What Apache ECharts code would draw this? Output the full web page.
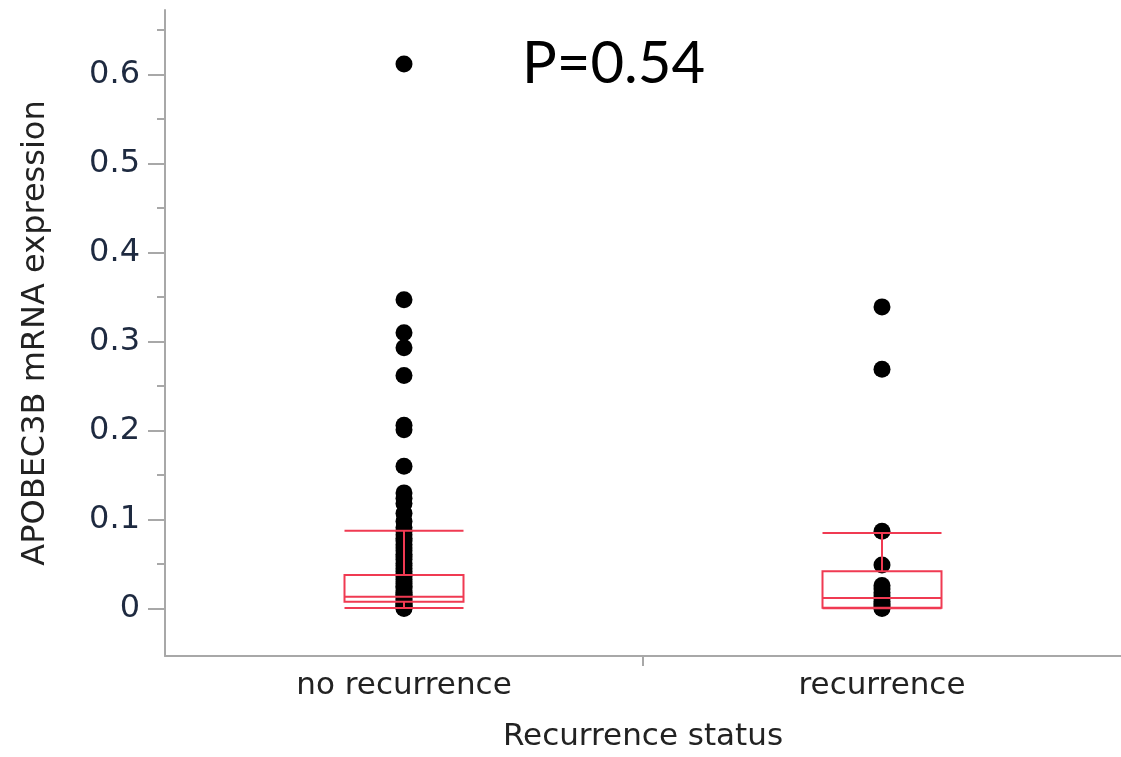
<!DOCTYPE html>
<html>
<head>
<meta charset="utf-8">
<script src="https://cdn.jsdelivr.net/npm/echarts@6/dist/echarts.min.js"></script>
<style>
html,body{margin:0;padding:0;background:#fff;}
#chart{width:1121px;height:757px;}
</style>
</head>
<body>
<div id="chart"></div>
<script>
// ---- data ----
const categories = ['no recurrence', 'recurrence'];
const noRecurrencePoints = [0.612, 0.347, 0.310, 0.293, 0.262, 0.206, 0.201, 0.160, 0.130, 0.124, 0.118, 0.107, 0.098,
  0.091, 0.087, 0.083, 0.079, 0.076, 0.072, 0.068, 0.065, 0.061, 0.058, 0.055, 0.051, 0.048, 0.045, 0.042,
  0.039, 0.036, 0.033, 0.030, 0.028, 0.025, 0.023, 0.020, 0.018, 0.016, 0.014, 0.012, 0.010, 0.008,
  0.006, 0.004, 0.003, 0.002, 0.001, 0.0];
const recurrencePoints = [0.339, 0.269, 0.087, 0.049, 0.026, 0.022, 0.018, 0.014, 0.011, 0.008, 0.005, 0.003, 0.001, 0.0];
// box stats: [lower whisker, Q1, median, Q3, upper whisker]
const boxStats = [
  [0.0005, 0.0078, 0.0133, 0.0377, 0.0875],
  [0.0003, 0.0010, 0.0120, 0.0420, 0.0850]
];
const majorTicks = [0, 0.1, 0.2, 0.3, 0.4, 0.5, 0.6];
const minorTicks = [0.05, 0.15, 0.25, 0.35, 0.45, 0.55, 0.65];
const categoryBoundaryTicks = [1];
const pValueText = 'P=0.54';
const yTitle = 'APOBEC3B mRNA expression';
const xTitle = 'Recurrence status';

const scatterData = [];
noRecurrencePoints.forEach(v => scatterData.push([0, v]));
recurrencePoints.forEach(v => scatterData.push([1, v]));

const Y_MIN = -0.0533, Y_MAX = 0.6726;
const axisGray = '#a8a8a8';
const textFont = 'DejaVu Sans';

const chart = echarts.init(document.getElementById('chart'), null, {renderer: 'canvas'});
chart.setOption({
  animation: false,
  backgroundColor: '#ffffff',
  title: {
    text: pValueText,
    left: 517, top: 30,
    textStyle: {fontFamily: 'Lato', fontSize: 58, fontWeight: 'normal', color: '#000'}
  },
  grid: {left: 165, right: 0, top: 10, bottom: 92, containLabel: false},
  xAxis: [
    {
      type: 'category',
      data: categories,
      boundaryGap: true,
      name: xTitle,
      nameLocation: 'middle',
      nameGap: 65,
      nameTextStyle: {fontFamily: textFont, fontSize: 31, color: '#222'},
      axisLine: {onZero: false, lineStyle: {color: axisGray, width: 2}},
      axisTick: {show: false},
      axisLabel: {fontFamily: textFont, fontSize: 31, color: '#222', margin: 14},
      splitLine: {show: false}
    },
    {
      type: 'value',
      min: 0, max: categories.length,
      position: 'bottom',
      axisLine: {show: false, onZero: false},
      axisTick: {show: true, length: 10, customValues: categoryBoundaryTicks, lineStyle: {color: axisGray, width: 2}},
      axisLabel: {show: false},
      splitLine: {show: false}
    }
  ],
  yAxis: [
    {
      type: 'value',
      min: Y_MIN, max: Y_MAX,
      position: 'left',
      name: yTitle,
      nameLocation: 'middle',
      nameGap: 113,
      nameRotate: 90,
      nameTextStyle: {fontFamily: textFont, fontSize: 32, color: '#222'},
      axisLine: {show: true, lineStyle: {color: axisGray, width: 2}},
      axisTick: {show: true, length: 8, customValues: minorTicks, lineStyle: {color: axisGray, width: 2}},
      axisLabel: {show: false},
      splitLine: {show: false}
    },
    {
      type: 'value',
      min: Y_MIN, max: Y_MAX,
      position: 'left',
      axisLine: {show: false},
      axisTick: {show: true, length: 17, customValues: majorTicks, lineStyle: {color: axisGray, width: 2}},
      axisLabel: {show: true, customValues: majorTicks, fontFamily: textFont, fontSize: 32, color: '#1e2a40', margin: 25,
        formatter: v => String(Math.round(v * 10) / 10)},
      splitLine: {show: false}
    }
  ],
  series: [
    {
      type: 'scatter',
      xAxisIndex: 0, yAxisIndex: 0,
      data: scatterData,
      symbol: 'circle',
      symbolSize: 17,
      itemStyle: {color: '#000', opacity: 1},
      z: 2
    },
    {
      type: 'boxplot',
      xAxisIndex: 0, yAxisIndex: 0,
      data: boxStats,
      boxWidth: [119, 119],
      itemStyle: {color: 'rgba(0,0,0,0)', borderColor: '#f03a52', borderWidth: 2},
      z: 3
    }
  ]
});
</script>
</body>
</html>
